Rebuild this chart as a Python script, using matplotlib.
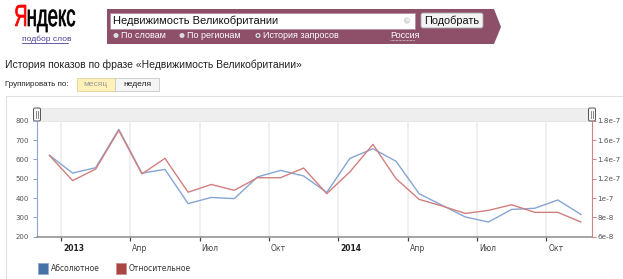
import matplotlib
matplotlib.use("Agg")
import matplotlib.pyplot as plt
from matplotlib.patches import Rectangle, FancyBboxPatch, Polygon, PathPatch, Circle
from matplotlib.textpath import TextPath
from matplotlib.font_manager import FontProperties
from matplotlib.transforms import Affine2D, ScaledTranslation

# ---------------- data ----------------
months = ["Дек 2012", "Янв 2013", "Фев 2013", "Мар 2013", "Апр 2013", "Май 2013",
          "Июн 2013", "Июл 2013", "Авг 2013", "Сен 2013", "Окт 2013", "Ноя 2013",
          "Дек 2013", "Янв 2014", "Фев 2014", "Мар 2014", "Апр 2014", "Май 2014",
          "Июн 2014", "Июл 2014", "Авг 2014", "Сен 2014", "Окт 2014", "Ноя 2014"]
month_pos = [i - 0.5 for i in range(len(months))]   # mid-month, Jan 2013 starts at 0
absolute = [621, 529, 557, 755, 529, 548, 371, 403, 397, 509, 543, 514,
            429, 605, 655, 590, 422, 362, 302, 276, 341, 347, 390, 315]
relative = [14.4e-8, 11.8e-8, 13.0e-8, 17.0e-8, 12.5e-8, 14.1e-8, 10.6e-8, 11.4e-8,
            10.8e-8, 12.1e-8, 12.1e-8, 13.1e-8, 10.45e-8, 12.7e-8, 15.55e-8, 12.0e-8,
            9.86e-8, 9.17e-8, 8.41e-8, 8.72e-8, 9.31e-8, 8.52e-8, 8.52e-8, 7.52e-8]
tick_pos = [0, 3, 6, 9, 12, 15, 18, 21]
tick_labels = ["2013", "Апр", "Июл", "Окт", "2014", "Апр", "Июл", "Окт"]
left_ticks = [200, 300, 400, 500, 600, 700, 800]
right_ticks = [6e-8, 8e-8, 1e-7, 1.2e-7, 1.4e-7, 1.6e-7, 1.8e-7]
right_labels = ["6e-8", "8e-8", "1e-7", "1.2e-7", "1.4e-7", "1.6e-7", "1.8e-7"]
series_names = ["Абсолютное", "Относительное"]
query = "Недвижимость Великобритании"

W, H = 623, 279
fig = plt.figure(figsize=(W / 100, H / 100), dpi=100)
fig.patch.set_facecolor("white")

# background axes in pixel coordinates (y down)
bg = fig.add_axes([0, 0, 1, 1], zorder=0)
bg.set_xlim(0, W)
bg.set_ylim(H, 0)
bg.axis("off")

SANS = ["Liberation Sans", "DejaVu Sans"]
VERD = ["DejaVu Sans"]

# ---- Yandex logo ----
fp = FontProperties(family="Liberation Sans")
pY = TextPath((0, 0), "Я", size=100, prop=fp)
eY = pY.get_extents()
pR = TextPath((eY.x1 + 4, 0), "ндекс", size=100, prop=fp)
eR = pR.get_extents()
sx = (75 - 15) / (eR.x1 - eY.x0)
sy = (26 - 5) / eY.y1
tr = Affine2D().translate(-eY.x0, 0).scale(sx, -sy).translate(15, 26)
bg.add_patch(PathPatch(tr.transform_path(pY), fc="#ff0000", ec="#ff0000", lw=0.5))
bg.add_patch(PathPatch(tr.transform_path(pR), fc="#000000", ec="#000000", lw=0.5))
bg.text(22, 39.5, "подбор слов", fontsize=6, family=SANS, color="#4b3f9a",
        va="center", ha="left")
bg.plot([22, 68], [43, 43], color="#4b3f9a", lw=0.6)

# ---- maroon banner ----
maroon = "#8d5068"
bg.add_patch(Polygon([(107, 9), (494, 9), (501, 27), (494, 44), (107, 44)],
                     closed=True, fc=maroon, ec="none"))
bg.add_patch(Rectangle((110, 12.5), 305, 16, fc="white", ec="#b08a99", lw=0.5))
bg.text(113, 20.5, query, fontsize=8, family=SANS, color="#111111", va="center")
bg.add_patch(Circle((407, 20.5), 3.2, fc="#d8d8d8", ec="none"))
bg.text(407, 20.5, "×", fontsize=5, family=VERD, color="white", va="center", ha="center")
bg.add_patch(FancyBboxPatch((421, 13), 62, 15, boxstyle="round,pad=0,rounding_size=2",
                            fc="#f4f4f4", ec="#aaaaaa", lw=0.6))
bg.text(452, 20.5, "Подобрать", fontsize=7.8, family=SANS, color="#111111",
        va="center", ha="center")
radios = [(116, "По словам", False), (182, "По регионам", False), (258, "История запросов", True)]
for rx, lab, sel in radios:
    bg.add_patch(Circle((rx, 35.5), 2.5, fc="#dddddd", ec="none"))
    if sel:
        bg.add_patch(Circle((rx, 35.5), 1.2, fc="#555555", ec="none"))
    bg.text(rx + 5, 35.5, lab, fontsize=6.5, family=SANS, color="white", va="center")
bg.text(390, 35.5, "Россия", fontsize=6.5, family=SANS, color="white", va="center")
bg.plot([390, 415], [40, 40], color="white", lw=0.5, ls=(0, (1, 1)))

# ---- titles / grouping ----
bg.text(5, 65, "История показов по фразе «" + query + "»", fontsize=7.5, family=SANS,
        color="#222222", va="center")
bg.text(5, 84, "Группировать по:", fontsize=5.8, family=SANS, color="#222222", va="center")
bg.add_patch(Rectangle((76.5, 77.5), 38.5, 13.5, fc="#fff1b8", ec="#e2d39a", lw=0.6))
bg.add_patch(Rectangle((115, 77.5), 44, 13.5, fc="#f5f5f5", ec="#c8c8c8", lw=0.6))
bg.text(96, 84.5, "месяц", fontsize=6, family=SANS, color="#9a9a9a", va="center", ha="center")
bg.text(137, 84.5, "неделя", fontsize=6, family=SANS, color="#222222", va="center", ha="center")

# ---- chart panel ----
bg.plot([6, 6, W + 5], [H + 5, 96, 96], color="#e2e2e2", lw=0.8)
bg.add_patch(Rectangle((37, 108), 555, 12.5, fc="#eeeeee", ec="#e0e0e0", lw=0.5))
for hx in (37, 592):
    bg.add_patch(FancyBboxPatch((hx - 3.5, 108), 7, 13, boxstyle="round,pad=0,rounding_size=1.5",
                                fc="#f6f6f6", ec="#555555", lw=0.7, zorder=5))
    bg.plot([hx - 1, hx - 1], [111, 118], color="#777777", lw=0.6, zorder=6)
    bg.plot([hx + 1, hx + 1], [111, 118], color="#777777", lw=0.6, zorder=6)

# legend
bg.add_patch(Rectangle((37.5, 262.5), 10.5, 11.5, fc="#4572a7", ec="#8fa9cc", lw=0.6))
bg.text(50.5, 268.5, series_names[0], fontsize=5.5, family=VERD, color="#333333", va="center")
bg.add_patch(Rectangle((115.5, 262.5), 10.5, 11.5, fc="#aa4643", ec="#d08c8a", lw=0.6))
bg.text(128.5, 268.5, series_names[1], fontsize=5.5, family=VERD, color="#333333", va="center")

# ---- plot axes ----
x0, x1, yt, yb = 37, 592, 120.7, 236.7
ax = fig.add_axes([x0 / W, 1 - yb / H, (x1 - x0) / W, (yb - yt) / H], zorder=2)
ax.patch.set_alpha(0)
ax2 = ax.twinx()
ax2.patch.set_alpha(0)

ax.set_xlim(-1.04, 22.98)
ax.set_ylim(200, 800)
ax2.set_ylim(6e-8, 1.8e-7)

ax.plot(month_pos, absolute, color="#86a5d4", lw=1.0, zorder=3)
ax2.plot(month_pos, relative, color="#d27e7e", lw=1.0, zorder=3)

for tp in tick_pos:
    ax.axvline(tp, color="#ebebeb", lw=1.1, zorder=0)

for a in (ax, ax2):
    a.spines["top"].set_visible(False)
ax.spines["right"].set_visible(False)
ax2.spines["left"].set_visible(False)
ax2.spines["bottom"].set_visible(False)
ax.spines["left"].set_color("#8aa6cf")
ax.spines["left"].set_linewidth(0.8)
ax2.spines["right"].set_color("#cf8585")
ax2.spines["right"].set_linewidth(0.8)
ax.spines["bottom"].set_color("#8c8c8c")
ax.spines["bottom"].set_linewidth(1.1)

ax.set_yticks(left_ticks)
ax.set_yticklabels([str(v) for v in left_ticks])
ax.tick_params(axis="y", direction="out", length=3, width=0.7, color="#8aa6cf",
               labelsize=5, labelcolor="#555555", pad=3)
ax2.set_yticks(right_ticks)
ax2.set_yticklabels(right_labels)
ax2.tick_params(axis="y", direction="out", length=3, width=0.7, color="#cf8585",
                labelsize=5.2, labelcolor="#555555", pad=1)

ax.set_xticks(tick_pos)
ax.set_xticklabels(tick_labels)
ax.tick_params(axis="x", direction="out", length=3, width=0.9, color="#444444",
               labelsize=5.5, labelcolor="#444444", pad=2.5)
off = ScaledTranslation(2 / 100, 0, fig.dpi_scale_trans)
for lab in ax.get_xticklabels():
    lab.set_horizontalalignment("left")
    lab.set_transform(lab.get_transform() + off)
    lab.set_family(VERD)
    if lab.get_text() in ("2013", "2014"):
        lab.set_fontweight("bold")
        lab.set_color("#222222")
for lab in ax.get_yticklabels() + ax2.get_yticklabels():
    lab.set_family(VERD)

fig.savefig("out.png", dpi=100)
